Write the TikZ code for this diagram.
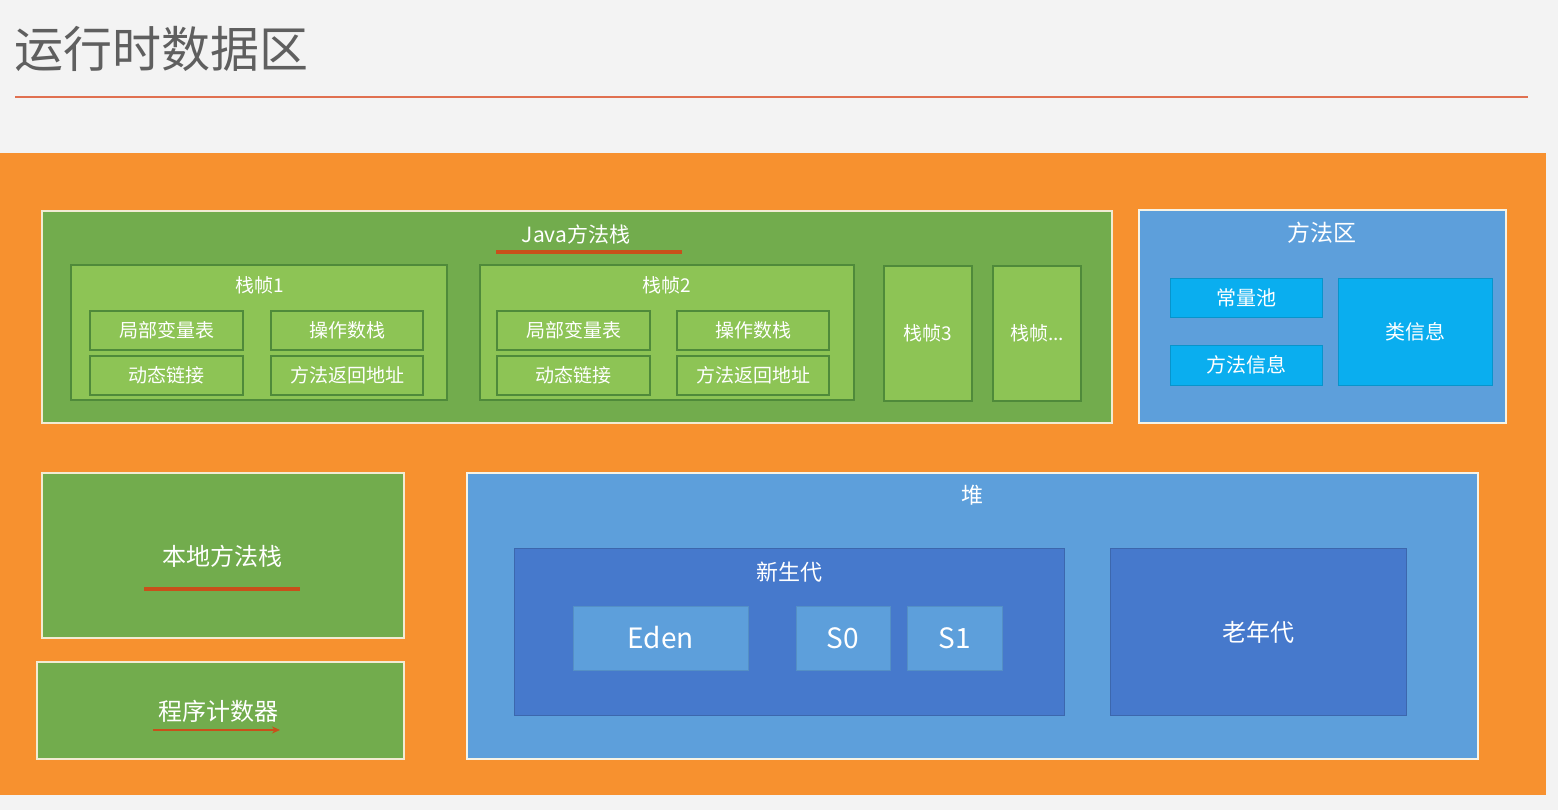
\documentclass[tikz,border=0pt]{standalone}
\usepackage{fontspec}
\setmainfont{Noto Sans CJK SC}
\usetikzlibrary{arrows.meta}
\definecolor{bgc}{HTML}{F3F3F3}
\definecolor{orangec}{HTML}{F7912F}
\definecolor{greenc}{HTML}{72AC4D}
\definecolor{lgreen}{HTML}{8DC455}
\definecolor{dgreen}{HTML}{4F8A3A}
\definecolor{bluec}{HTML}{5D9FDB}
\definecolor{cyanc}{HTML}{0AAEEF}
\definecolor{dblue}{HTML}{4679CC}
\definecolor{creamc}{HTML}{F2EBD3}
\definecolor{titlec}{HTML}{5F5F5F}
\definecolor{linec}{HTML}{E07050}
\definecolor{ulc}{HTML}{C8501A}
\newcommand\bx[7]{\node[#6, minimum width={(#4-#2)*1pt}, minimum height={(#5-#3)*1pt}] (#1) at ({(#2+#4)/2},{(#3+#5)/2}) {#7};}
\tikzset{
  base/.style={rectangle, inner sep=0pt, outer sep=0pt, text=white},
  bigarea/.style={base, fill=greenc, draw=creamc, line width=2.5pt},
  bluearea/.style={base, fill=bluec, draw=creamc!60!white, line width=2.5pt},
  framebox/.style={base, fill=lgreen, draw=dgreen, line width=1.5pt},
  cellbox/.style={base, fill=lgreen, draw=dgreen, line width=1.5pt, font=\fontsize{19}{19}\selectfont},
  cyanbox/.style={base, fill=cyanc, draw=cyanc!85!black, line width=0.8pt, font=\fontsize{20}{20}\selectfont},
  genbox/.style={base, fill=dblue, draw=dblue!85!black, line width=0.8pt},
  edenbox/.style={base, fill=bluec, draw=bluec!90!black, line width=0.8pt, font=\fontsize{28}{28}\selectfont},
  lbl/.style={text=white, inner sep=0pt},
  ul/.style={draw=ulc, line width=3.5pt}
}
\begin{document}
\begin{tikzpicture}[x=1pt,y=-1pt]
\useasboundingbox (0,0) rectangle (1558,810);
\fill[bgc] (0,0) rectangle (1558,810);
% title
\node[anchor=west, text=titlec, inner sep=0pt, font=\fontsize{49}{49}\selectfont] (title) at (14,49) {运行时数据区};
\coordinate (tl1) at (15,97);
\coordinate (tl2) at (1528,97);
\draw[linec, line width=2.5pt] (tl1) -- (tl2);
% orange area
\fill[orangec] (0,153) rectangle (1546,795);
% Java stack
\bx{jstack}{42}{211}{1112}{423}{bigarea}{}
\node[lbl, font=\fontsize{21}{21}\selectfont] (jtitle) at (576,234) {Java方法栈};
\coordinate (ju1) at (496,252);
\coordinate (ju2) at (682,252);
\draw[ul] (ju1) -- (ju2);
% frame 1
\bx{f1}{71}{265}{447}{400}{framebox}{}
\node[lbl, font=\fontsize{19}{19}\selectfont] (f1t) at (260,285) {栈帧1};
\bx{f1a}{90}{311}{243}{350}{cellbox}{局部变量表}
\bx{f1b}{271}{311}{423}{350}{cellbox}{操作数栈}
\bx{f1c}{90}{356}{243}{395}{cellbox}{动态链接}
\bx{f1d}{271}{356}{423}{395}{cellbox}{方法返回地址}
% frame 2
\bx{f2}{480}{265}{854}{400}{framebox}{}
\node[lbl, font=\fontsize{19}{19}\selectfont] (f2t) at (667,285) {栈帧2};
\bx{f2a}{497}{311}{650}{350}{cellbox}{局部变量表}
\bx{f2b}{677}{311}{829}{350}{cellbox}{操作数栈}
\bx{f2c}{497}{356}{650}{395}{cellbox}{动态链接}
\bx{f2d}{677}{356}{829}{395}{cellbox}{方法返回地址}
% frame 3 and ...
\bx{f3}{884}{266}{972}{401}{cellbox}{栈帧3}
\bx{f4}{993}{266}{1081}{401}{cellbox}{栈帧...}
% method area
\bx{marea}{1139}{210}{1506}{423}{bluearea}{}
\node[lbl, font=\fontsize{23}{23}\selectfont] (mtitle) at (1322,233) {方法区};
\bx{pool}{1170}{278}{1322}{317}{cyanbox}{常量池}
\bx{minfo}{1170}{345}{1322}{385}{cyanbox}{方法信息}
\bx{cinfo}{1338}{278}{1492}{385}{cyanbox}{类信息}
% native stack
\bx{native}{42}{473}{404}{638}{bigarea}{}
\node[lbl, font=\fontsize{24}{24}\selectfont] (ntitle) at (222,556) {本地方法栈};
\coordinate (nu1) at (144,589);
\coordinate (nu2) at (300,589);
\draw[ul] (nu1) -- (nu2);
% program counter
\bx{pc}{37}{662}{404}{759}{bigarea}{}
\node[lbl, font=\fontsize{24}{24}\selectfont] (pctitle) at (218,711) {程序计数器};
\coordinate (pu1) at (153,730);
\coordinate (pu2) at (280,730);
\draw[ul, line width=2.5pt, -{Stealth[length=8pt,width=7pt]}] (pu1) -- (pu2);
% heap
\bx{heap}{467}{473}{1478}{759}{bluearea}{}
\node[lbl, font=\fontsize{22}{22}\selectfont] (htitle) at (972,495) {堆};
\bx{young}{514}{548}{1064}{715}{genbox}{}
\node[lbl, font=\fontsize{22}{22}\selectfont] (ytitle) at (789,572) {新生代};
\bx{eden}{573}{606}{748}{670}{edenbox}{Eden}
\bx{s0}{796}{606}{890}{670}{edenbox}{S0}
\bx{s1}{907}{606}{1002}{670}{edenbox}{S1}
\bx{old}{1110}{548}{1406}{715}{genbox}{}
\node[lbl, font=\fontsize{24}{24}\selectfont] (otitle) at (1258,632) {老年代};
\end{tikzpicture}
\end{document}
